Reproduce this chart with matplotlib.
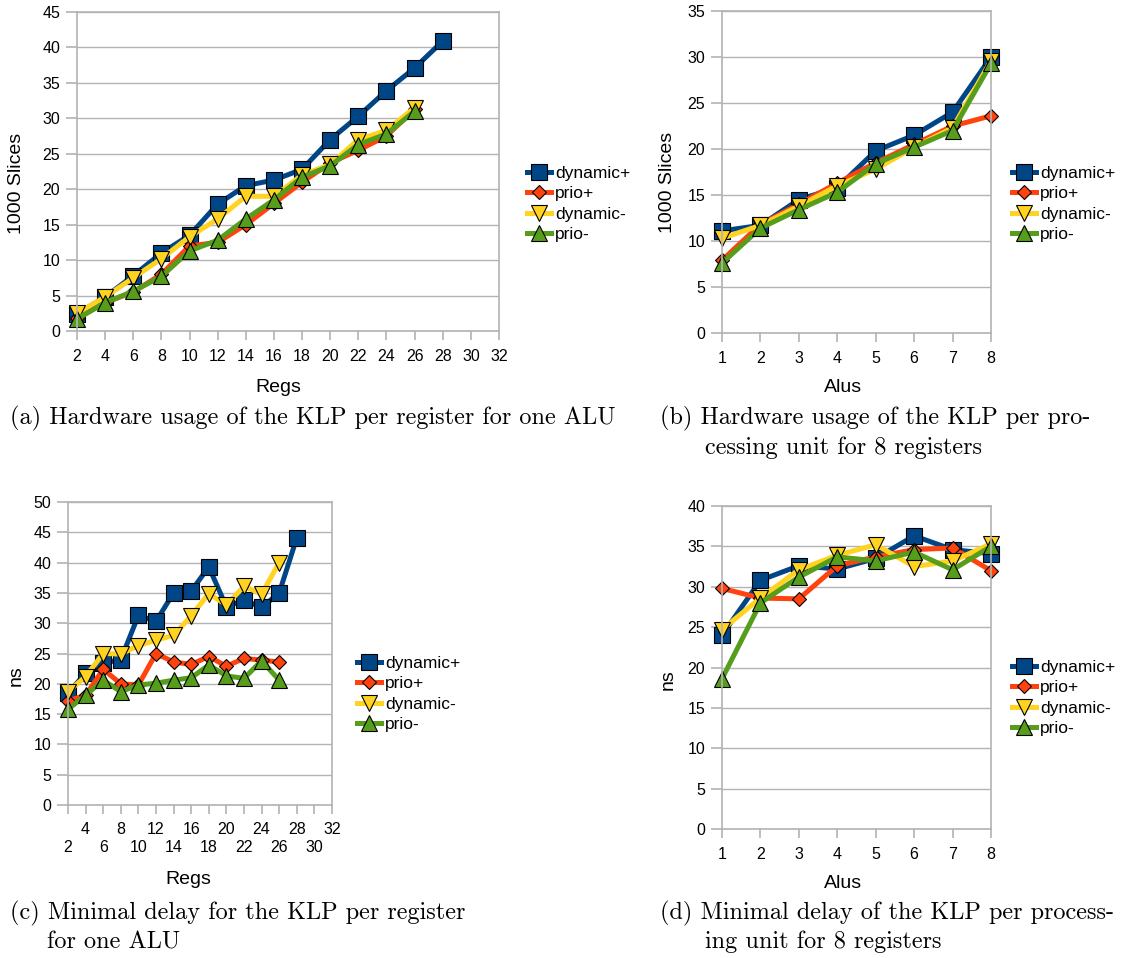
# -*- coding: utf-8 -*-

import matplotlib.pyplot as plt
import numpy as np

# データ
regs = [2, 4, 6, 8, 10, 12, 14, 16, 18, 20, 22, 24, 26, 28]
alus = [1, 2, 3, 4, 5, 6, 7, 8]

# (a) slices per register
a_dyn_p = [2.4, 4.8, 7.8, 11.0, 13.5, 17.9, 20.5, 21.3, 22.8, 27.0, 30.3, 33.9, 37.1, 40.9]
a_prio_p = [1.8, 4.0, 5.5, 8.0, 12.0, 12.5, 15.0, 18.0, 21.0, 23.7, 25.5, 27.5, 31.3]
a_dyn_m = [2.5, 4.8, 7.5, 10.2, 13.3, 15.8, 19.0, 19.0, 22.0, 23.5, 27.0, 28.3, 31.5]
a_prio_m = [1.7, 4.0, 5.6, 7.7, 11.3, 12.8, 15.8, 18.5, 21.7, 23.3, 26.3, 27.8, 31.0]

# (b) slices per alu
b_dyn_p = [11.1, 11.7, 14.5, 15.8, 19.8, 21.5, 24.0, 30.0]
b_prio_p = [7.9, 11.8, 14.0, 16.3, 18.5, 20.5, 22.5, 23.6]
b_dyn_m = [10.3, 11.7, 13.8, 16.0, 17.8, 20.2, 22.3, 29.6]
b_prio_m = [7.6, 11.4, 13.4, 15.3, 18.4, 20.2, 22.0, 29.3]

# (c) delay per register
c_dyn_p = [18.4, 21.8, 23.4, 24.0, 31.3, 30.3, 35.0, 35.3, 39.3, 32.7, 33.8, 32.6, 35.0, 44.1]
c_prio_p = [17.2, 18.1, 22.4, 20.0, 19.8, 25.0, 23.6, 23.2, 24.5, 22.9, 24.2, 23.9, 23.6]
c_dyn_m = [18.7, 21.2, 25.0, 24.9, 26.3, 27.2, 28.0, 31.2, 34.9, 33.0, 36.1, 34.8, 40.0]
c_prio_m = [15.8, 18.1, 20.6, 18.7, 19.8, 20.1, 20.6, 21.0, 23.1, 21.3, 20.9, 23.8, 20.6]

# (d) delay per alu
d_dyn_p = [24.0, 30.8, 32.6, 32.2, 33.5, 36.3, 34.6, 34.1]
d_prio_p = [29.8, 28.6, 28.5, 32.6, 33.7, 34.6, 34.8, 32.0]
d_dyn_m = [24.7, 28.6, 32.1, 33.9, 35.2, 32.5, 33.2, 35.3]
d_prio_m = [18.6, 28.0, 31.2, 33.7, 33.2, 34.3, 32.1, 35.0]

labels = ["dynamic+", "prio+", "dynamic-", "prio-"]
colors = ["#004586", "#ff420e", "#ffd320", "#579d1c"]
markers = ["s", "D", "v", "^"]
msizes = [11, 7, 11, 11]

plt.rcParams['font.family'] = ['Liberation Sans', 'DejaVu Sans']

W, H = 1125, 958
fig = plt.figure(figsize=(W / 100, H / 100), dpi=100)


def px_axes(left, top, right, bottom):
    ax = fig.add_axes([left / W, 1 - bottom / H, (right - left) / W, (bottom - top) / H])
    ax.px_box = (left, top, right, bottom)
    return ax


def draw(ax, x, series, xlim, ylim, ystep, xlabel, ylabel, leg_xy, xlab_xy, ylab_xy):
    for ys, lab, c, m, ms in zip(series, labels, colors, markers, msizes):
        ax.plot(x[:len(ys)], ys, color=c, lw=3.6, marker=m, ms=ms,
                mfc=c, mec='black', mew=0.8, label=lab, clip_on=False)
    ax.set_xlim(*xlim)
    ax.set_ylim(*ylim)
    ax.set_yticks(np.arange(ylim[0], ylim[1] + 1, ystep))
    ax.grid(axis='y', color='#b3b3b3', lw=1)
    ax.set_axisbelow(True)
    for s in ax.spines.values():
        s.set_color('#b3b3b3')
        s.set_linewidth(1.2)
    ax.tick_params(axis='both', colors='#b3b3b3', labelcolor='black',
                   labelsize=11.5, width=1.2)
    ax.tick_params(axis='x', length=6.5, pad=6.5)
    ax.tick_params(axis='y', length=8, pad=4)

    # 軸ラベル (ピクセル位置で配置)
    l, t, r, b = ax.px_box
    ax.set_xlabel(xlabel, fontsize=14, va='center', ha='center')
    ax.xaxis.set_label_coords((xlab_xy[0] - l) / (r - l), (b - xlab_xy[1]) / (b - t))
    ax.set_ylabel(ylabel, fontsize=14, va='center', ha='center')
    ax.yaxis.set_label_coords((ylab_xy[0] - l) / (r - l), (b - ylab_xy[1]) / (b - t))

    ax.legend(loc='center left', bbox_to_anchor=(leg_xy[0] / W, 1 - leg_xy[1] / H),
              bbox_transform=fig.transFigure, frameon=False, fontsize=12.5,
              handlelength=1.4, handletextpad=0.2, labelspacing=0.3,
              borderpad=0, borderaxespad=0)


# (a)
ax = px_axes(77, 12, 499, 331)
draw(ax, regs, [a_dyn_p, a_prio_p, a_dyn_m, a_prio_m], (2, 32), (0, 45), 5,
     "Regs", "1000 Slices", (527, 204), (278, 387), (17, 183))
ax.set_xticks(np.arange(2, 33, 2))

# (b)
ax = px_axes(722, 11, 991, 333)
draw(ax, alus, [b_dyn_p, b_prio_p, b_dyn_m, b_prio_m], (1, 8), (0, 35), 5,
     "Alus", "1000 Slices", (1012, 204), (843, 387), (668, 182))
ax.set_xticks(alus)

# (c)
ax = px_axes(68, 502, 332, 805)
draw(ax, regs, [c_dyn_p, c_prio_p, c_dyn_m, c_prio_m], (2, 32), (0, 50), 5,
     "Regs", "ns", (357, 694), (188, 879), (16, 676))
xt = np.arange(2, 33, 2)
ax.set_xticks(xt)
ax.set_xticklabels([("\n%d" % t) if i % 2 == 0 else ("%d" % t) for i, t in enumerate(xt)],
                   linespacing=1.3)
ax.tick_params(axis='x', pad=5.5)

# (d)
ax = px_axes(722, 506, 991, 829)
draw(ax, alus, [d_dyn_p, d_prio_p, d_dyn_m, d_prio_m], (1, 8), (0, 40), 5,
     "Alus", "ns", (1012, 698), (843, 883), (668, 680))
ax.set_xticks(alus)

# キャプション
cap = dict(fontsize=17.5, family='cmr10', va='center', ha='left')
fig.text(10 / W, 1 - 418 / H, "(a) Hardware usage of the KLP per register for one ALU", **cap)
fig.text(660 / W, 1 - 418 / H, "(b) Hardware usage of the KLP per pro-", **cap)
fig.text(705 / W, 1 - 448 / H, "cessing unit for 8 registers", **cap)
fig.text(10 / W, 1 - 913 / H, "(c) Minimal delay for the KLP per register", **cap)
fig.text(47 / W, 1 - 942 / H, "for one ALU", **cap)
fig.text(660 / W, 1 - 913 / H, "(d) Minimal delay of the KLP per process-", **cap)
fig.text(705 / W, 1 - 942 / H, "ing unit for 8 registers", **cap)

plt.savefig("out.png", dpi=100)
